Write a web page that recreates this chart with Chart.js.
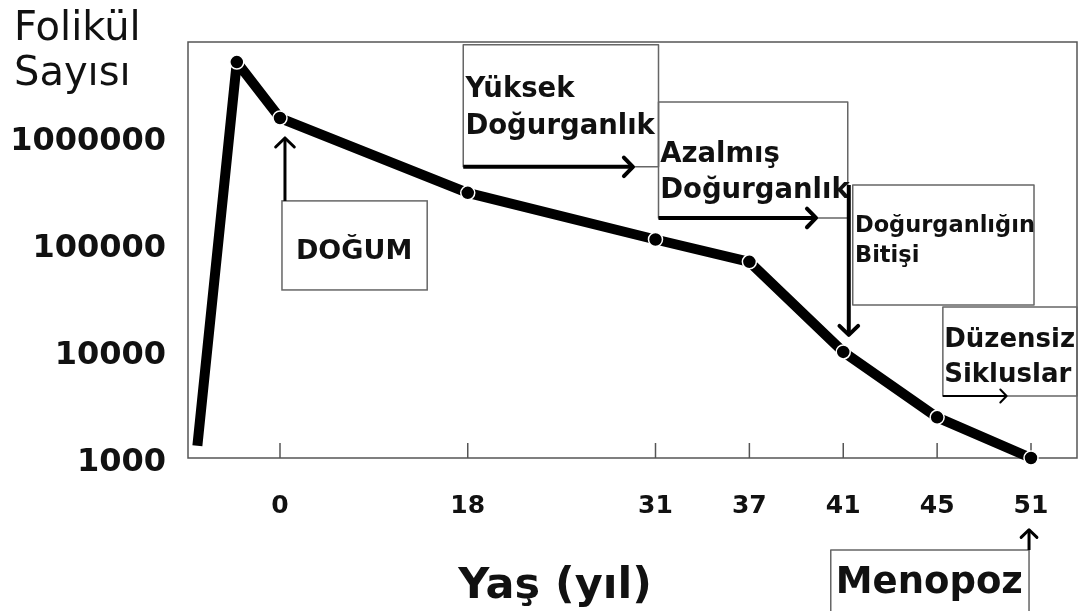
<!DOCTYPE html>
<html>
<head>
<meta charset="utf-8">
<script src="https://cdn.jsdelivr.net/npm/chart.js@4"></script>
<style>
html, body { margin: 0; padding: 0; background: #fff; }
canvas { display: block; }
</style>
</head>
<body>
<canvas id="c" width="1081" height="611"></canvas>
<script>
// x tick labels (age, years) and where they sit on the (non linear) x axis
var ageLabels = ['0', '18', '31', '37', '41', '45', '51'];
var agePos = [2, 4, 6, 7, 8, 9, 10];

// follicle count curve
var pointPos = [1.12, 1.54, 2, 4, 6, 7, 8, 9, 10];
var follicles = [1300, 5000000, 1500000, 300000, 110000, 68000, 9800, 2400, 1000];

// y tick labels
var yTicks = [1000, 10000, 100000, 1000000];

// annotation boxes, in axis units (x) and log10 exponents (y)
var notes = [
    { box: [2.021, 3.568, 5.402, 4.570], font: 'bold 27px "DejaVu Sans"',
      lines: [['DOĞUM', 2.17, 4.86]],
      arrow: [2.053, 5.402, 2.053, 5.99], aw: 3, head: 13 },
    { box: [3.952, 6.032, 6.860, 5.720], font: 'bold 27.5px "DejaVu Sans"',
      lines: [['Yüksek', 3.975, 6.374], ['Doğurganlık', 3.975, 6.028]],
      arrow: [3.952, 5.720, 5.76, 5.720], aw: 4, head: 13 },
    { box: [6.032, 8.048, 6.327, 5.243], font: 'bold 27.5px "DejaVu Sans"',
      lines: [['Azalmış', 6.05, 5.766], ['Doğurganlık', 6.05, 5.430]],
      arrow: [6.032, 5.243, 7.71, 5.243], aw: 4, head: 13 },
    { box: [8.101, 10.032, 5.551, 4.430], font: 'bold 22.5px "DejaVu Sans"',
      lines: [['Doğurganlığın', 8.125, 5.112], ['Bitişi', 8.125, 4.832]],
      arrow: [8.059, 5.551, 8.059, 4.15], aw: 4, head: 13 },
    { box: [9.061, 10.49, 4.411, 3.579], font: 'bold 26px "DejaVu Sans"',
      lines: [['Düzensiz', 9.075, 4.037], ['Sikluslar', 9.075, 3.710]],
      arrow: [9.061, 3.579, 9.74, 3.579], aw: 2, head: 9 },
    { box: [7.867, 9.979, 2.140, 1.40], font: 'bold 37px "DejaVu Sans"',
      lines: [['Menopoz', 7.92, 1.738]],
      arrow: [9.979, 2.140, 9.979, 2.33], aw: 3, head: 11 }
];

function drawArrow(ctx, x1, y1, x2, y2, w, head) {
    var ang = Math.atan2(y2 - y1, x2 - x1);
    ctx.strokeStyle = '#000';
    ctx.lineWidth = w;
    ctx.lineCap = 'butt';
    ctx.beginPath();
    ctx.moveTo(x1, y1);
    ctx.lineTo(x2, y2);
    ctx.stroke();
    ctx.lineCap = 'round';
    ctx.lineJoin = 'round';
    ctx.beginPath();
    ctx.moveTo(x2 - head * Math.cos(ang - 0.8), y2 - head * Math.sin(ang - 0.8));
    ctx.lineTo(x2, y2);
    ctx.lineTo(x2 - head * Math.cos(ang + 0.8), y2 - head * Math.sin(ang + 0.8));
    ctx.stroke();
}

var decor = {
    id: 'decor',
    beforeDatasetsDraw: function (chart) {
        var ctx = chart.ctx, a = chart.chartArea;
        var xs = chart.scales.x, ys = chart.scales.y;
        function X(u) { return xs.getPixelForValue(u); }
        function Y(e) { return ys.getPixelForValue(Math.pow(10, e)); }
        ctx.save();
        // plot frame and inward ticks
        ctx.strokeStyle = '#555';
        ctx.lineWidth = 1.5;
        ctx.strokeRect(a.left, a.top, a.right - a.left, a.bottom - a.top);
        agePos.forEach(function (p) {
            ctx.beginPath();
            ctx.moveTo(X(p), a.bottom);
            ctx.lineTo(X(p), a.bottom - 15);
            ctx.stroke();
        });
        // notes
        notes.forEach(function (n) {
            var b = n.box;
            ctx.strokeStyle = '#666';
            ctx.lineWidth = 1.5;
            ctx.strokeRect(X(b[0]), Y(b[2]), X(b[1]) - X(b[0]), Y(b[3]) - Y(b[2]));
            ctx.fillStyle = '#111';
            ctx.font = n.font;
            ctx.textAlign = 'left';
            ctx.textBaseline = 'alphabetic';
            n.lines.forEach(function (l) {
                ctx.fillText(l[0], X(l[1]), Y(l[2]));
            });
            var ar = n.arrow;
            drawArrow(ctx, X(ar[0]), Y(ar[1]), X(ar[2]), Y(ar[3]), n.aw, n.head);
        });
        ctx.restore();
    },
    afterDraw: function (chart) {
        var ctx = chart.ctx;
        ctx.save();
        ctx.fillStyle = '#111';
        ctx.textBaseline = 'alphabetic';
        ctx.textAlign = 'left';
        ctx.font = '40px "DejaVu Sans"';
        ctx.fillText('Folikül', 14, 40);
        ctx.fillText('Sayısı', 14, 85);
        ctx.textAlign = 'center';
        ctx.font = 'bold 43px "DejaVu Sans"';
        ctx.fillText('Yaş (yıl)', 555, 598);
        ctx.restore();
    }
};

var points = pointPos.map(function (p, i) { return { x: p, y: follicles[i] }; });

new Chart(document.getElementById('c'), {
    type: 'line',
    data: {
        datasets: [{
            data: points,
            borderColor: '#000',
            borderWidth: 10,
            borderJoinStyle: 'round',
            tension: 0,
            pointRadius: [0, 7, 7, 7, 7, 7, 7, 7, 7],
            pointBackgroundColor: '#000',
            pointBorderColor: '#fff',
            pointBorderWidth: 1.5,
            clip: false
        }]
    },
    options: {
        responsive: false,
        animation: false,
        layout: { autoPadding: false, padding: { top: 42, right: 4, left: 0, bottom: 0 } },
        plugins: { legend: { display: false }, tooltip: { enabled: false } },
        scales: {
            x: {
                type: 'linear',
                min: 1.02,
                max: 10.49,
                grid: { display: false, drawTicks: false },
                border: { display: false },
                afterBuildTicks: function (s) {
                    s.ticks = agePos.map(function (p) { return { value: p }; });
                },
                afterFit: function (s) {
                    s.height = 153;
                    s.paddingLeft = 0;
                    s.paddingRight = 0;
                },
                ticks: {
                    autoSkip: false,
                    maxRotation: 0,
                    padding: 33,
                    color: '#111',
                    font: { family: 'DejaVu Sans', weight: 'bold', size: 25 },
                    callback: function (v) { return ageLabels[agePos.indexOf(v)]; }
                }
            },
            y: {
                type: 'logarithmic',
                min: 1000,
                max: 7700000,
                grid: { display: false, drawTicks: false },
                border: { display: false },
                afterBuildTicks: function (s) {
                    s.ticks = yTicks.map(function (v) { return { value: v }; });
                },
                afterFit: function (s) { s.width = 188; },
                ticks: {
                    padding: 22,
                    labelOffset: 5,
                    color: '#111',
                    font: { family: 'DejaVu Sans', weight: 'bold', size: 32 },
                    callback: function (v) { return String(v); }
                }
            }
        }
    },
    plugins: [decor]
});
</script>
</body>
</html>
